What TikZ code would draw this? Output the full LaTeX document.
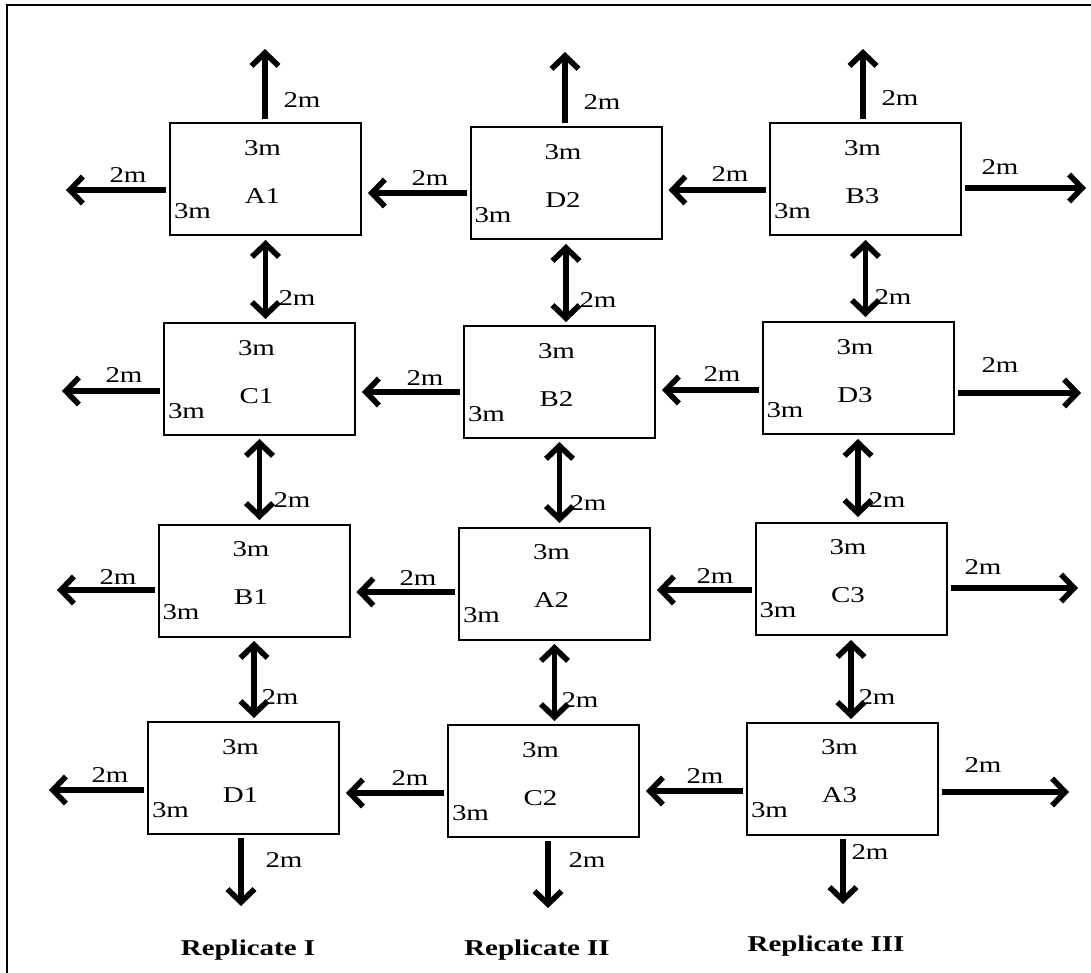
\documentclass[tikz,border=0pt]{standalone}
\usepackage{fontspec}
\setmainfont{Liberation Serif}
\usetikzlibrary{arrows.meta}
\tikzset{
 plot/.style={draw, line width=1pt, minimum width=95.5pt, minimum height=56pt, inner sep=0pt},
 txt/.style={inner sep=0pt, font=\fontsize{11.3}{13}\selectfont},
 btxt/.style={inner sep=0pt, font=\fontsize{11.3}{13}\selectfont\bfseries},
 tip/.tip={Straight Barb[length=6.5pt,width=13.5pt,line width=2.8pt]},
 arr/.style={line width=2.6pt, -tip, shorten <=1.5pt, shorten >=2pt},
 darr/.style={line width=2.6pt, tip-tip, shorten <=2pt, shorten >=2pt},
}
\newcommand\sx[1]{\scalebox{1.28}[1]{#1}}
\newcommand\plotbox[4]{%
 \node[plot] (#1) at (#2,#3) {};
 \node[txt] (#1t) at ([shift={(-3,-31)}]#1.center) {\sx{3m}};
 \node[txt] (#1n) at ([shift={(-3,17)}]#1.center) {\sx{#4}};
 \node[txt] (#1l) at ([shift={(-73,32)}]#1.center) {\sx{3m}};
}
\newcommand\lab[3]{\node[txt] (#1) at (#2) {\sx{#3}};}
\begin{document}
\begin{tikzpicture}[x=0.5pt,y=-0.5pt]
\useasboundingbox (0,0) rectangle (1091,973);
% outer frame (only top and left edges visible)
\coordinate (fbl) at (7,973);
\coordinate (ftl) at (7,5);
\coordinate (ftr) at (1091,5);
\draw[line width=1.3pt] (fbl) -- (ftl) -- (ftr);

% boxes
\plotbox{A1}{265.5}{179.5}{A1}
\plotbox{D2}{566}{183.5}{D2}
\plotbox{B3}{865.5}{179.5}{B3}
\plotbox{C1}{259.5}{379}{C1}
\plotbox{B2}{559.5}{382}{B2}
\plotbox{D3}{858}{378}{D3}
\plotbox{B1}{254}{580.5}{B1}
\plotbox{A2}{554.5}{583.5}{A2}
\plotbox{C3}{851}{578.5}{C3}
\plotbox{D1}{243.5}{778}{D1}
\plotbox{C2}{543.5}{781}{C2}
\plotbox{A3}{842.5}{778.5}{A3}

% free ends
\coordinate (A1u) at (265,45);
\coordinate (D2u) at (565,48);
\coordinate (B3u) at (863,45);
\coordinate (A1w) at (62,190);
\coordinate (C1w) at (58,391);
\coordinate (B1w) at (53,590);
\coordinate (D1w) at (45,790);
\coordinate (B3e) at (1090,188);
\coordinate (D3e) at (1085,393);
\coordinate (C3e) at (1082,588);
\coordinate (A3e) at (1073,792);
\coordinate (D1d) at (241,910);
\coordinate (C2d) at (548,912);
\coordinate (A3d) at (843,908);

% upward arrows
\draw[arr] (A1.north -| A1u) -- (A1u);
\draw[arr] (D2.north -| D2u) -- (D2u);
\draw[arr] (B3.north -| B3u) -- (B3u);
% downward arrows
\draw[arr] (D1.south -| D1d) -- (D1d);
\draw[arr] (C2.south -| C2d) -- (C2d);
\draw[arr] (A3.south -| A3d) -- (A3d);
% leftward outer arrows
\draw[arr] (A1.west |- A1w) -- (A1w);
\draw[arr] (C1.west |- C1w) -- (C1w);
\draw[arr] (B1.west |- B1w) -- (B1w);
\draw[arr] (D1.west |- D1w) -- (D1w);
% rightward outer arrows
\draw[arr] (B3.east |- B3e) -- (B3e);
\draw[arr] (D3.east |- D3e) -- (D3e);
\draw[arr] (C3.east |- C3e) -- (C3e);
\draw[arr] (A3.east |- A3e) -- (A3e);
% between columns
\draw[arr, shorten >=3pt] (D2.west |- 0,193) -- (A1.east |- 0,193);
\draw[arr, shorten >=3pt] (B3.west |- 0,190) -- (D2.east |- 0,190);
\draw[arr, shorten >=3pt] (B2.west |- 0,392) -- (C1.east |- 0,392);
\draw[arr, shorten >=3pt] (D3.west |- 0,390) -- (B2.east |- 0,390);
\draw[arr, shorten >=3pt] (A2.west |- 0,592) -- (B1.east |- 0,592);
\draw[arr, shorten >=3pt] (C3.west |- 0,590) -- (A2.east |- 0,590);
\draw[arr, shorten >=3pt] (C2.west |- 0,793) -- (D1.east |- 0,793);
\draw[arr, shorten >=3pt] (A3.west |- 0,791) -- (C2.east |- 0,791);
% between rows (double)
\draw[darr] (A1.south |- 0,236) -- (A1.south |- 0,323);
\draw[darr] (D2.south |- 0,240) -- (D2.south |- 0,326);
\draw[darr] (B3.south |- 0,236) -- (B3.south |- 0,321);
\draw[darr] (C1.south |- 0,435) -- (C1.south |- 0,524);
\draw[darr] (B2.south |- 0,438) -- (B2.south |- 0,527);
\draw[darr] (D3.south |- 0,435) -- (D3.south |- 0,521);
\draw[darr] (B1.south |- 0,637) -- (B1.south |- 0,722);
\draw[darr] (A2.south |- 0,640) -- (A2.south |- 0,725);
\draw[darr] (C3.south |- 0,636) -- (C3.south |- 0,723);

% 2m labels
\lab{l1}{302,100}{2m}
\lab{l2}{602,102}{2m}
\lab{l3}{900,98}{2m}
\lab{l4}{128,175}{2m}
\lab{l5}{430,178}{2m}
\lab{l6}{730,174}{2m}
\lab{l7}{1000,167}{2m}
\lab{l8}{297,298}{2m}
\lab{l9}{598,300}{2m}
\lab{l10}{893,297}{2m}
\lab{l11}{124,375}{2m}
\lab{l12}{425,378}{2m}
\lab{l13}{722,374}{2m}
\lab{l14}{1000,365}{2m}
\lab{l15}{292,500}{2m}
\lab{l16}{588,503}{2m}
\lab{l17}{887,500}{2m}
\lab{l18}{118,577}{2m}
\lab{l19}{418,578}{2m}
\lab{l20}{715,576}{2m}
\lab{l21}{983,567}{2m}
\lab{l22}{280,697}{2m}
\lab{l23}{580,700}{2m}
\lab{l24}{877,697}{2m}
\lab{l25}{110,775}{2m}
\lab{l26}{410,778}{2m}
\lab{l27}{705,776}{2m}
\lab{l28}{983,765}{2m}
\lab{l29}{284,860}{2m}
\lab{l30}{587,860}{2m}
\lab{l31}{870,852}{2m}

% replicate titles
\node[btxt] (r1) at (248,950) {\sx{Replicate I}};
\node[btxt] (r2) at (537,950) {\sx{Replicate II}};
\node[btxt] (r3) at (826,946) {\sx{Replicate III}};
\end{tikzpicture}
\end{document}
